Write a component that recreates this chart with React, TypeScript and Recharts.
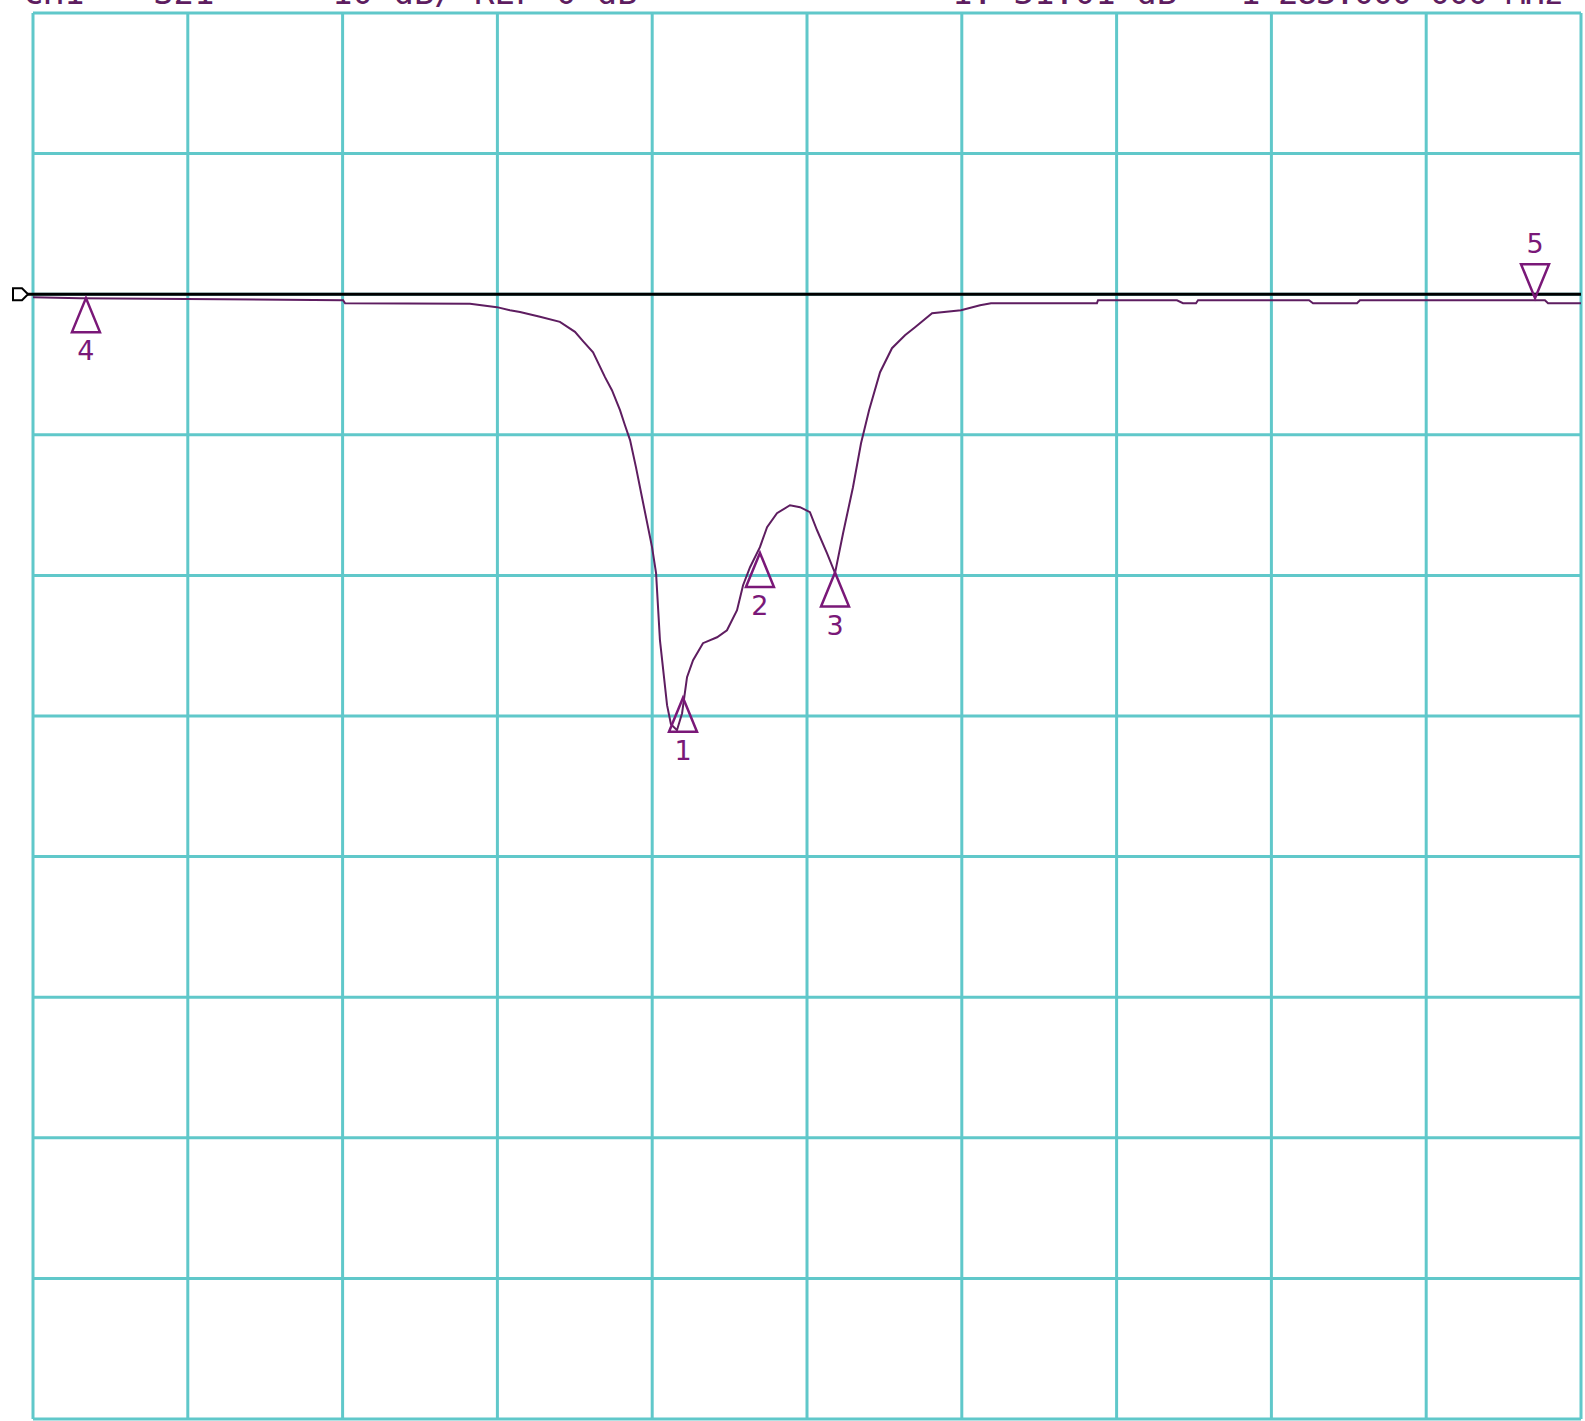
import React from "react";
import {
  ComposedChart,
  Line,
  Scatter,
  XAxis,
  YAxis,
  CartesianGrid,
  ReferenceLine,
} from "recharts";

// trace: x in % of span, y in dB (10 dB/div, ref 0 dB)
const traceX = [
  0, 3.04, 20.03, 20.16, 28.23, 29.97, 30.81, 31.46, 32.75, 34.04, 35.01, 35.53,
  36.18, 36.95, 37.4, 37.92, 38.24, 38.57, 38.95, 39.34, 39.99, 40.25, 40.5,
  40.96, 41.21, 41.6, 41.93, 42.25, 42.64, 43.28, 44.19, 44.83, 45.48, 45.87,
  46.32, 46.96, 47.42, 48.06, 48.9, 49.55, 50.19, 50.65, 51.29, 51.81, 52.33,
  52.97, 53.49, 54.01, 54.72, 55.49, 56.33, 56.98, 58.08, 59.95, 61.18, 61.89,
  68.73, 68.8, 73.9, 74.29, 75.13, 75.26, 82.43, 82.69, 85.53, 85.72, 97.67,
  97.87, 100,
];
const traceDb = [
  -0.21, -0.28, -0.43, -0.64, -0.68, -0.92, -1.14, -1.26, -1.61, -1.97, -2.68,
  -3.34, -4.13, -5.9, -6.83, -8.25, -9.32, -10.38, -12.3, -14.44, -17.99,
  -19.84, -24.61, -29.23, -30.58, -31.01, -29.8, -27.24, -26.03, -24.82, -24.4,
  -23.9, -22.48, -20.7, -19.42, -17.99, -16.57, -15.58, -15.01, -15.15, -15.5,
  -16.79, -18.42, -19.84, -17.0, -13.73, -10.6, -8.25, -5.55, -3.84, -2.92,
  -2.35, -1.35, -1.14, -0.78, -0.64, -0.64, -0.43, -0.43, -0.64, -0.64, -0.43,
  -0.43, -0.64, -0.64, -0.43, -0.43, -0.64, -0.64,
];

const markerIds = ["1", "2", "3", "4", "5"];
const markerX = [41.99, 46.96, 51.81, 3.42, 97.03];
const markerDb = [-28.7, -18.4, -19.8, -0.28, -0.28];
const markerUp = [true, true, true, true, false];

const xTicks = [0, 10, 20, 30, 40, 50, 60, 70, 80, 90, 100];
const yTicks = [-80, -70, -60, -50, -40, -30, -20, -10, 0, 10, 20];

// header is cut off at the top edge of the screenshot
const headerLeft = ["CH1", "S21", "10 dB/", "REF 0 dB"];
const headerRight = ["1:-31.01 dB", "1 283.000 000 MHz"];

const trace = traceX.map((x, i) => ({ x, y: traceDb[i] }));
const markers = markerIds.map((id, i) => ({
  x: markerX[i],
  y: markerDb[i],
  id,
  up: markerUp[i],
}));

const PURPLE = "#5e1d60";
const MARK = "#7a1878";

const MarkerShape = (props: any) => {
  const { cx, cy, payload } = props;
  if (cx == null || cy == null) return null;
  const w = 14;
  const h = 34;
  const dy = payload.up ? h : -h;
  return (
    <g>
      <path
        d={`M${cx},${cy} L${cx - w},${cy + dy} L${cx + w},${cy + dy} Z`}
        fill="none"
        stroke={MARK}
        strokeWidth={2.5}
      />
      <text
        x={cx}
        y={payload.up ? cy + 62 : cy - 45}
        textAnchor="middle"
        fontFamily="DejaVu Sans"
        fontSize={27}
        fill={MARK}
      >
        {payload.id}
      </text>
    </g>
  );
};

const RefShape = (p: any) => {
  const { x1, y1, x2, y2 } = p;
  if (x1 == null) return null;
  return (
    <g>
      <line x1={x1 - 6} y1={y1} x2={x2} y2={y2} stroke="#000" strokeWidth={3} />
      <path
        d={`M${x1 - 20},${y1 - 6} h9 l6,6 l-6,6 h-9 Z`}
        fill="#fff"
        stroke="#000"
        strokeWidth={2}
      />
    </g>
  );
};

export default function App() {
  return (
    <div
      style={{
        position: "absolute",
        left: 0,
        top: 0,
        width: 1585,
        height: 1421,
        background: "#fff",
        overflow: "hidden",
      }}
    >
      <div
        style={{
          position: "absolute",
          left: 0,
          top: -28,
          width: 1585,
          fontFamily: "DejaVu Sans Mono",
          fontSize: 34,
          color: PURPLE,
          whiteSpace: "pre",
        }}
      >
        <span style={{ position: "absolute", left: 23 }}>{headerLeft[0]}</span>
        <span style={{ position: "absolute", left: 153 }}>{headerLeft[1]}</span>
        <span style={{ position: "absolute", left: 332 }}>{headerLeft[2]}</span>
        <span style={{ position: "absolute", left: 474 }}>{headerLeft[3]}</span>
        <span style={{ position: "absolute", left: 952 }}>{headerRight[0]}</span>
        <span style={{ position: "absolute", left: 1240, letterSpacing: -1.5 }}>
          {headerRight[1]}
        </span>
      </div>
      <ComposedChart
        width={1585}
        height={1421}
        margin={{ top: 13, right: 4, bottom: 2, left: 33 }}
      >
        <XAxis
          type="number"
          dataKey="x"
          domain={[0, 100]}
          ticks={xTicks}
          allowDataOverflow
          hide
        />
        <YAxis
          type="number"
          dataKey="y"
          domain={[-80, 20]}
          ticks={yTicks}
          allowDataOverflow
          hide
        />
        <CartesianGrid stroke="#60c8ca" strokeWidth={3} />
        <Line
          data={trace}
          dataKey="y"
          type="linear"
          stroke={PURPLE}
          strokeWidth={2}
          dot={false}
          isAnimationActive={false}
        />
        <ReferenceLine y={0} shape={RefShape} />
        <Scatter
          data={markers}
          dataKey="y"
          shape={MarkerShape}
          isAnimationActive={false}
        />
      </ComposedChart>
    </div>
  );
}
